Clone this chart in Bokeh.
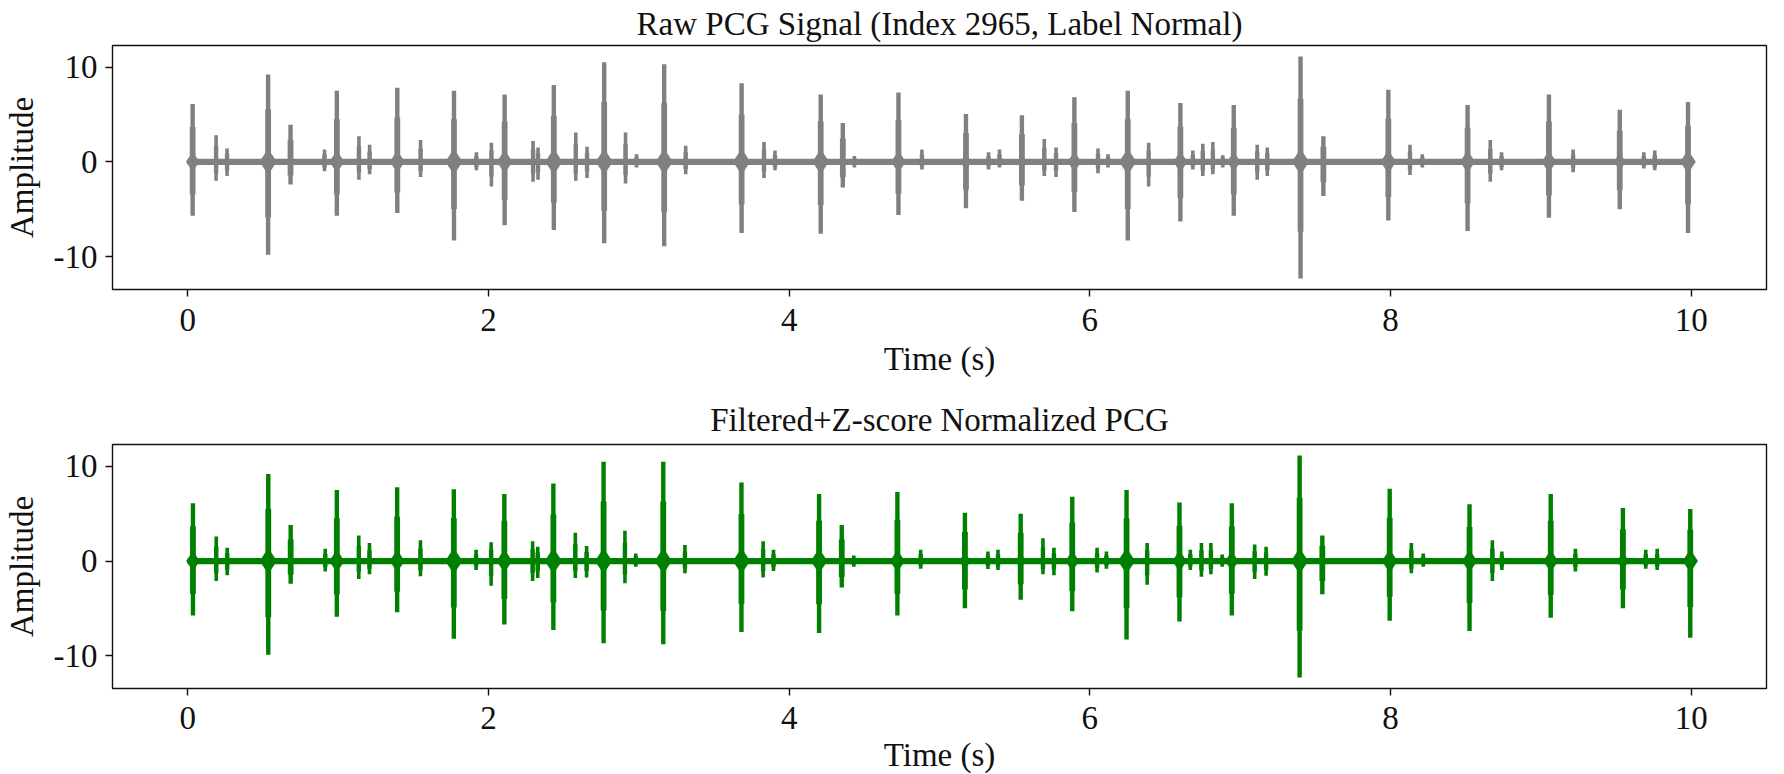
import numpy as np
from bokeh.plotting import figure
from bokeh.layouts import column
from bokeh.models import Range1d, ColumnDataSource, FixedTicker, Title
from bokeh.embed import file_html
from bokeh.resources import INLINE

FONT = "Liberation Serif"
TXT = "#111111"

# ---------------- data ----------------
duration_s = 10.0          # recording length (s)
baseline_noise = 0.33      # half-width of the background noise band
x_ticks = [0, 2, 4, 6, 8, 10]
y_ticks = [-10, 0, 10]

raw_title = "Raw PCG Signal (Index 2965, Label Normal)"
flt_title = "Filtered+Z-score Normalized PCG"

# burst times (s), positive peak and negative peak of the raw signal
raw_t = [0.033, 0.189, 0.262, 0.535, 0.684, 0.910, 0.992, 1.139, 1.210, 1.394,
         1.549, 1.771, 1.920, 2.020, 2.108, 2.297, 2.330, 2.435, 2.581, 2.656,
         2.770, 2.912, 2.985, 3.169, 3.312, 3.684, 3.833, 3.906, 4.210, 4.357,
         4.434, 4.727, 4.883, 5.176, 5.326, 5.399, 5.548, 5.697, 5.775, 5.897,
         6.054, 6.121, 6.252, 6.391, 6.602, 6.685, 6.751, 6.818, 6.884, 6.957,
         7.113, 7.180, 7.401, 7.553, 7.985, 8.129, 8.211, 8.512, 8.663, 8.738,
         9.053, 9.214, 9.524, 9.684, 9.757, 9.978]
raw_hi = [6.1, 2.8, 1.4, 9.2, 3.9, 1.3, 7.5, 2.7, 1.8, 7.8,
          2.3, 7.5, 1.0, 2.0, 7.1, 2.2, 1.5, 8.1, 3.1, 1.6,
          10.5, 3.1, 0.8, 10.3, 1.7, 8.3, 2.1, 1.2, 7.1, 4.1,
          0.6, 7.3, 1.3, 5.05, 1.0, 1.3, 4.9, 2.4, 1.5, 6.8,
          1.4, 0.8, 7.5, 2.0, 6.2, 1.2, 1.9, 2.1, 0.7, 6.0,
          1.8, 1.5, 11.1, 2.7, 7.6, 1.8, 0.8, 6.0, 2.3, 1.0,
          7.1, 1.3, 5.5, 1.0, 1.2, 6.3]
raw_lo = [-5.7, -2.0, -1.5, -9.8, -2.4, -1.0, -5.7, -1.9, -1.3, -5.4,
          -1.6, -8.3, -0.9, -2.6, -6.7, -2.1, -1.9, -7.2, -2.0, -1.7,
          -8.6, -2.3, -0.6, -8.9, -1.3, -7.5, -1.7, -0.9, -7.6, -2.7,
          -0.6, -5.6, -0.8, -4.9, -0.8, -0.6, -4.1, -1.5, -1.6, -5.3,
          -1.2, -0.6, -8.3, -2.6, -6.3, -0.8, -1.5, -1.3, -0.6, -5.7,
          -1.9, -1.5, -12.3, -3.6, -6.2, -1.4, -0.6, -7.3, -2.1, -0.9,
          -5.9, -1.1, -5.0, -0.7, -0.9, -7.5]

# burst times (s), positive peak and negative peak of the filtered signal
flt_t = [0.035, 0.190, 0.263, 0.536, 0.685, 0.915, 0.992, 1.138, 1.209, 1.393,
         1.548, 1.770, 1.918, 2.018, 2.106, 2.294, 2.328, 2.432, 2.578, 2.653,
         2.766, 2.908, 2.980, 3.163, 3.307, 3.683, 3.827, 3.896, 4.199, 4.350,
         4.430, 4.720, 4.875, 5.169, 5.322, 5.389, 5.540, 5.688, 5.761, 5.883,
         6.048, 6.110, 6.244, 6.381, 6.596, 6.668, 6.742, 6.805, 6.880, 6.944,
         7.096, 7.172, 7.395, 7.546, 7.994, 8.138, 8.217, 8.525, 8.677, 8.740,
         9.065, 9.229, 9.545, 9.697, 9.773, 9.993]
flt_hi = [6.1, 2.6, 1.4, 9.2, 3.8, 1.3, 7.5, 2.7, 1.9, 7.8,
          2.2, 7.6, 1.2, 2.0, 7.1, 2.1, 1.5, 8.2, 3.0, 1.6,
          10.5, 3.2, 0.8, 10.5, 1.7, 8.3, 2.1, 1.2, 7.1, 3.8,
          0.6, 7.3, 1.2, 5.1, 1.0, 1.2, 5.0, 2.4, 1.4, 6.8,
          1.4, 1.0, 7.5, 1.9, 6.2, 1.2, 1.9, 1.9, 0.7, 6.1,
          1.75, 1.5, 11.15, 2.7, 7.65, 1.9, 0.8, 6.0, 2.2, 1.0,
          7.1, 1.3, 5.6, 1.2, 1.3, 5.5]
flt_lo = [-5.75, -2.1, -1.5, -9.9, -2.4, -1.1, -5.9, -1.9, -1.4, -5.4,
          -1.6, -8.2, -0.95, -2.6, -6.7, -2.1, -1.8, -7.3, -1.8, -1.75,
          -8.7, -2.35, -0.6, -8.8, -1.3, -7.5, -1.75, -1.05, -7.6, -2.8,
          -0.6, -5.75, -0.8, -5.0, -0.85, -0.95, -4.1, -1.4, -1.5, -5.3,
          -1.2, -0.8, -8.3, -2.5, -6.4, -0.95, -1.65, -1.4, -0.6, -5.75,
          -1.9, -1.55, -12.3, -3.5, -6.3, -1.3, -0.6, -7.4, -2.1, -0.95,
          -6.0, -1.1, -5.0, -0.8, -0.95, -8.1]


def make_panel(title, t, hi, lo, color, border_top, border_bottom,
               tick_standoff, label_standoff, title_standoff):
    t = np.asarray(t, float)
    hi = np.asarray(hi, float)
    lo = np.asarray(lo, float)
    pp = hi - lo
    src = ColumnDataSource(dict(
        t=t, hi=hi, lo=lo,
        hi_in=hi * 0.6, lo_in=lo * 0.6,
        w_full=np.where(pp > 6, 4.4, 3.6),
        w_in=np.where(pp > 6, 5.8, 4.4),
        env_size=np.clip(1.7 * pp, 10, 26),
    ))
    vals = np.concatenate([hi, lo])
    ymin, ymax = vals.min(), vals.max()
    pad = 0.05 * (ymax - ymin)
    xpad = 0.05 * duration_s

    p = figure(frame_width=1654, frame_height=244,
               min_border_left=108, min_border_right=20,
               min_border_top=border_top, min_border_bottom=border_bottom,
               x_range=Range1d(-xpad, duration_s + xpad),
               y_range=Range1d(ymin - pad, ymax + pad),
               output_backend="svg", toolbar_location=None, title=None)
    p.background_fill_color = "white"
    p.border_fill_color = "white"
    p.outline_line_color = "#111111"
    p.outline_line_width = 1.4
    p.grid.visible = False

    p.title = Title(text=title, align="center", text_font=FONT,
                    text_font_size="33px", text_font_style="normal",
                    text_color=TXT, standoff=title_standoff)

    # background noise band
    p.varea(x=[0.0, duration_s], y1=[-baseline_noise] * 2, y2=[baseline_noise] * 2,
            fill_color=color)
    # burst envelopes near the baseline (tapered)
    p.scatter(x="t", y=0, size="env_size", marker="diamond", source=src,
              fill_color=color, line_color=None)
    # spikes
    p.segment(x0="t", y0="lo", x1="t", y1="hi", source=src,
              line_color=color, line_width="w_full")
    p.segment(x0="t", y0="lo_in", x1="t", y1="hi_in", source=src,
              line_color=color, line_width="w_in")

    for ax in (p.xaxis[0], p.yaxis[0]):
        ax.axis_line_color = None
        ax.major_tick_line_color = "#111111"
        ax.major_tick_line_width = 1.4
        ax.major_tick_out = 7
        ax.major_tick_in = 0
        ax.minor_tick_line_color = None
        ax.major_label_text_font = FONT
        ax.major_label_text_font_size = "33px"
        ax.major_label_text_color = TXT
        ax.axis_label_text_font = FONT
        ax.axis_label_text_font_size = "33px"
        ax.axis_label_text_font_style = "normal"
        ax.axis_label_text_color = TXT
    p.xaxis.ticker = FixedTicker(ticks=x_ticks)
    p.yaxis.ticker = FixedTicker(ticks=y_ticks)
    p.xaxis.major_label_overrides = {v: str(v) for v in x_ticks}
    p.yaxis.major_label_overrides = {v: str(v) for v in y_ticks}
    p.xaxis.major_label_standoff = tick_standoff
    p.yaxis.major_label_standoff = 8
    p.xaxis.axis_label = "Time (s)"
    p.xaxis.axis_label_standoff = label_standoff
    p.yaxis.axis_label = "Amplitude"
    p.yaxis.axis_label_standoff = 11
    return p


p1 = make_panel(raw_title, raw_t, raw_hi, raw_lo, "#808080", 44, 103, 12, 7, 7)
p2 = make_panel(flt_title, flt_t, flt_hi, flt_lo, "#008000", 52, 87, 11, 5, 14)

layout = column(p1, p2, spacing=0)
open("out.html", "w").write(file_html(layout, INLINE))
